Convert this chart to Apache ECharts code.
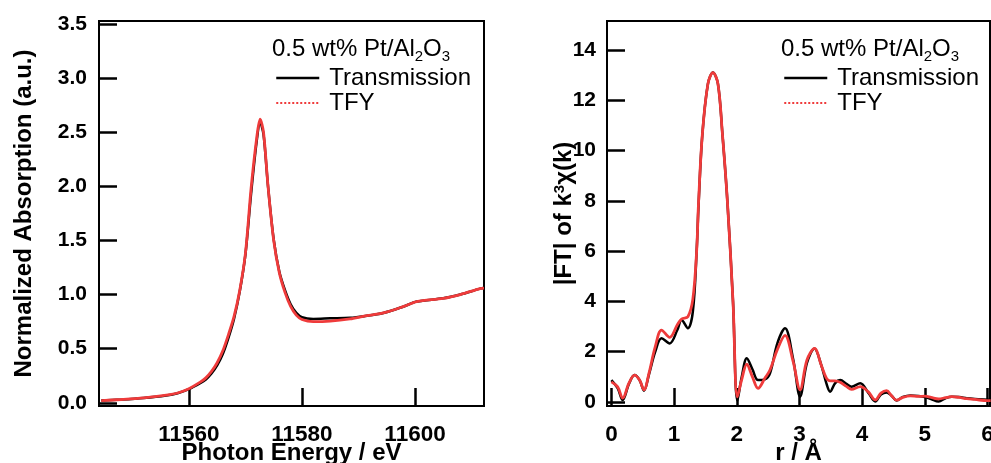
<!DOCTYPE html>
<html><head><meta charset="utf-8">
<script src="https://cdn.jsdelivr.net/npm/echarts@6.0.0/dist/echarts.min.js"></script>
<style>html,body{margin:0;padding:0;background:#fff}#c{width:991px;height:463px}</style>
</head><body><div id="c"></div>
<script>
// XANES (left panel)
const energy = [11544.5,11548,11552,11556,11558,11560,11562,11563,11564,11565,11566,11567,11568,11569,11570,11571,11572,11572.6,11573.2,11574,11575,11576,11577,11578,11579,11580,11582,11585,11588.5,11591,11594.4,11598,11600.3,11605,11608,11611.5,11612.2];
const xanesTransmission = [0.02,0.03,0.045,0.068,0.088,0.125,0.18,0.215,0.27,0.345,0.45,0.60,0.78,1.03,1.37,1.93,2.42,2.59,2.48,2.00,1.51,1.21,1.04,0.91,0.83,0.79,0.775,0.78,0.785,0.80,0.83,0.89,0.935,0.965,1.0,1.055,1.06];
const xanesTFY = [0.02,0.03,0.045,0.07,0.09,0.13,0.19,0.23,0.29,0.37,0.48,0.63,0.80,1.04,1.38,1.98,2.45,2.62,2.50,2.00,1.50,1.20,1.02,0.89,0.81,0.77,0.75,0.755,0.775,0.80,0.83,0.89,0.935,0.965,1.0,1.055,1.06];
// FT (right panel)
const rDist = [0.00,0.10,0.18,0.28,0.37,0.45,0.52,0.60,0.70,0.80,0.93,1.05,1.12,1.22,1.30,1.36,1.39,1.45,1.54,1.62,1.70,1.77,1.85,1.94,2.01,2.08,2.16,2.25,2.34,2.45,2.53,2.65,2.77,2.90,3.01,3.12,3.24,3.35,3.43,3.49,3.57,3.65,3.75,3.83,3.97,4.10,4.21,4.30,4.39,4.47,4.55,4.65,4.77,4.90,5.00,5.10,5.22,5.33,5.43,5.55,5.67,5.80,6.00,6.05];
const ftTransmission = [0.87,0.55,0.08,0.72,1.07,0.87,0.45,1.10,2.00,2.53,2.33,2.85,3.26,2.93,3.60,6.0,7.8,10.6,12.65,13.1,12.65,10.7,8.0,4.0,0.05,1.0,1.74,1.3,0.87,0.9,1.14,2.35,2.93,1.7,0.21,1.55,2.13,1.45,0.74,0.41,0.75,0.87,0.72,0.61,0.74,0.36,0.02,0.3,0.38,0.25,0.06,0.2,0.26,0.24,0.2,0.12,0.02,0.15,0.21,0.2,0.15,0.12,0.09,0.09];
const ftTFY = [0.80,0.60,0.15,0.75,1.07,0.87,0.48,1.15,2.2,2.86,2.57,3.06,3.30,3.39,4.1,6.0,7.9,10.6,12.65,13.1,12.65,10.7,8.0,4.0,0.2,0.9,1.5,1.0,0.54,0.95,1.27,2.1,2.65,1.6,0.48,1.67,2.13,1.45,0.95,0.84,0.84,0.78,0.62,0.5,0.61,0.4,0.08,0.35,0.45,0.25,0.07,0.18,0.24,0.22,0.23,0.18,0.12,0.17,0.21,0.18,0.13,0.1,0.05,0.05];
// ticks
const energyTicks = [11560,11580,11600];
const absTicks = [0,0.5,1,1.5,2,2.5,3,3.5];
const rTicks = [0,1,2,3,4,5,6];
const ftTicks = [0,2,4,6,8,10,12,14];
const seriesNames = ['Transmission','TFY'];
const sampleLabel = '0.5 wt% Pt/Al';

const FONT = 'Liberation Sans';
const RED = '#ef3b3b';

function axisBase(ticks, fmt, margin, size) {
  return {
    axisLine: {show: true, onZero: false, lineStyle: {color: '#000', width: 2}},
    axisTick: {show: true, inside: true, length: 18, customValues: ticks, lineStyle: {color: '#000', width: 2.5}},
    axisLabel: {customValues: ticks, formatter: fmt, color: '#000', fontFamily: FONT, fontWeight: 'bold', fontSize: size, margin: margin},
    splitLine: {show: false},
    nameMoveOverlap: false
  };
}
const nameStyle = {color: '#000', fontFamily: FONT, fontWeight: 'bold', fontSize: 24};

function legendFor(left) {
  return {
    orient: 'vertical', left: left, top: 65.5, itemWidth: 43, itemHeight: 14, itemGap: 0,
    selectedMode: false, padding: 0,
    textStyle: {color: '#000', fontFamily: FONT, fontSize: 24, lineHeight: 25, padding: [0, 0, 0, 5]},
    data: [
      {name: seriesNames[0], itemStyle: {opacity: 0}, lineStyle: {color: '#000', width: 2.5, type: 'solid'}},
      {name: seriesNames[1], itemStyle: {opacity: 0}, lineStyle: {color: RED, width: 2, type: 'dotted'}}
    ]
  };
}
function titleFor(left) {
  return {
    text: '{a|' + sampleLabel + '}{b|2}{a|O}{b|3}', left: left, top: 34, padding: 0,
    textStyle: {
      fontWeight: 'normal',
      rich: {
        a: {fontFamily: FONT, fontWeight: 'normal', fontSize: 24, color: '#000', lineHeight: 30, verticalAlign: 'middle'},
        b: {fontFamily: FONT, fontWeight: 'normal', fontSize: 15, color: '#000', lineHeight: 19, verticalAlign: 'bottom'}
      }
    }
  };
}

const chart = echarts.init(document.getElementById('c'), null, {renderer: 'canvas'});
chart.setOption({
  animation: false,
  backgroundColor: '#fff',
  title: [titleFor(272), titleFor(781)],
  legend: [legendFor(275), legendFor(783)],
  grid: [
    {left: 99, top: 21, width: 385, height: 385, show: true, borderColor: '#000', borderWidth: 2, containLabel: false, outerBoundsMode: 'none'},
    {left: 607, top: 21, width: 383, height: 385, show: true, borderColor: '#000', borderWidth: 2, containLabel: false, outerBoundsMode: 'none'}
  ],
  xAxis: [
    Object.assign(axisBase(energyTicks, v => String(v), 17, 22.5), {
      type: 'value', gridIndex: 0, min: 11544.1, max: 11612.2,
      name: 'Photon Energy / eV', nameLocation: 'middle', nameGap: 35, nameTextStyle: nameStyle
    }),
    Object.assign(axisBase(rTicks, v => String(v), 17, 22.5), {
      type: 'value', gridIndex: 1, min: -0.07, max: 6.04,
      name: 'r / Å', nameLocation: 'middle', nameGap: 35, nameTextStyle: nameStyle
    })
  ],
  yAxis: [
    Object.assign(axisBase(absTicks, v => v.toFixed(1), 12, 21), {
      type: 'value', gridIndex: 0, min: -0.03, max: 3.528,
      name: 'Normalized Absorption (a.u.)', nameLocation: 'middle', nameRotate: 90, nameGap: 63, nameTextStyle: nameStyle
    }),
    Object.assign(axisBase(ftTicks, v => String(v), 11, 21), {
      type: 'value', gridIndex: 1, min: -0.16, max: 15.15,
      name: '{a||FT| of k}{s|3}{a|χ(k)}', nameLocation: 'middle', nameRotate: 90, nameGap: 31,
      nameTextStyle: {
        rich: {
          a: {fontFamily: FONT, fontWeight: 'bold', fontSize: 24, color: '#000', lineHeight: 24, verticalAlign: 'bottom'},
          s: {fontFamily: FONT, fontWeight: 'bold', fontSize: 15, color: '#000', lineHeight: 15, verticalAlign: 'top', padding: [0, 0, 19, 0]}
        }
      }
    })
  ],
  series: [
    {name: seriesNames[0], type: 'line', xAxisIndex: 0, yAxisIndex: 0, symbol: 'none', smooth: 0.3, clip: true,
     lineStyle: {color: '#000', width: 2.5}, itemStyle: {color: '#000'},
     data: energy.map((e, i) => [e, xanesTransmission[i]])},
    {name: seriesNames[1], type: 'line', xAxisIndex: 0, yAxisIndex: 0, symbol: 'none', smooth: 0.3, clip: true,
     lineStyle: {color: RED, width: 2.8}, itemStyle: {color: RED},
     data: energy.map((e, i) => [e, xanesTFY[i]])},
    {name: seriesNames[0], type: 'line', xAxisIndex: 1, yAxisIndex: 1, symbol: 'none', smooth: 0.35, clip: true,
     lineStyle: {color: '#000', width: 2.5}, itemStyle: {color: '#000'},
     data: rDist.map((r, i) => [r, ftTransmission[i]])},
    {name: seriesNames[1], type: 'line', xAxisIndex: 1, yAxisIndex: 1, symbol: 'none', smooth: 0.35, clip: true,
     lineStyle: {color: RED, width: 2.8}, itemStyle: {color: RED},
     data: rDist.map((r, i) => [r, ftTFY[i]])}
  ]
});
</script>
</body></html>
